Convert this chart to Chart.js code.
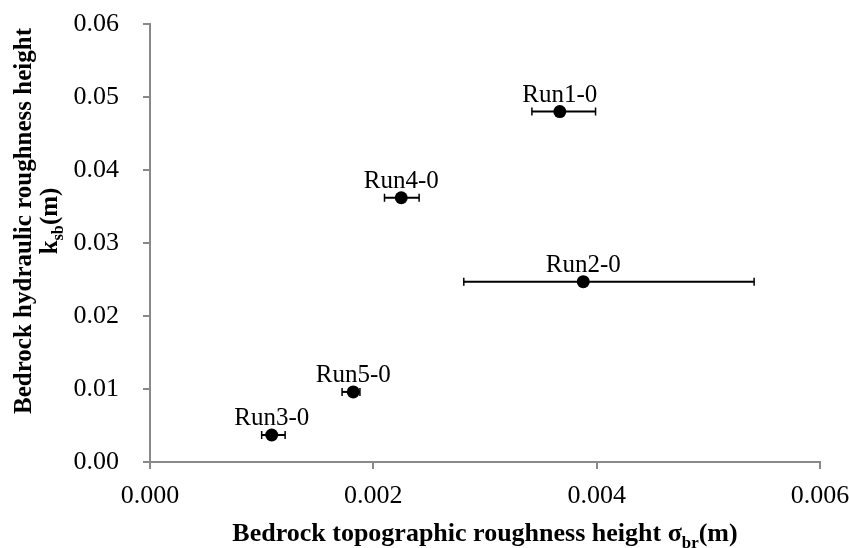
<!DOCTYPE html>
<html>
<head>
<meta charset="utf-8">
<script src="https://cdn.jsdelivr.net/npm/chart.js@4.4.1/dist/chart.umd.min.js"></script>
<style>
  html, body { margin: 0; padding: 0; background: #fff; }
  #wrap { width: 849px; height: 548px; }
</style>
</head>
<body>
<div id="wrap"><canvas id="grafico" width="849" height="548"></canvas></div>
<script>
// datos
const runs = ['Run1-0', 'Run2-0', 'Run3-0', 'Run4-0', 'Run5-0'];
const sigma = [0.00367, 0.00388, 0.00109, 0.00225, 0.00182];
const ksb = [0.0480, 0.0247, 0.0037, 0.0362, 0.0096];
// extremos de las barras de error en x
const sigmaLow = [0.00342, 0.00281, 0.00100, 0.00210, 0.00172];
const sigmaHigh = [0.00399, 0.00541, 0.00121, 0.00241, 0.00188];

const xTicks = [0, 0.002, 0.004, 0.006];
const yTicks = [0, 0.01, 0.02, 0.03, 0.04, 0.05, 0.06];

const serif = '"Liberation Serif", "Times New Roman", serif';
const ejeColor = '#898989';

// texto con subindice, dibujado a mano
function textoPartes(ctx, partes, x, y, size) {
  let total = 0;
  partes.forEach(p => {
    ctx.font = 'bold ' + (p.sub ? size * 0.65 : size) + 'px ' + serif;
    p.w = ctx.measureText(p.t).width;
    total += p.w;
  });
  let cx = x - total / 2;
  partes.forEach(p => {
    ctx.font = 'bold ' + (p.sub ? size * 0.65 : size) + 'px ' + serif;
    ctx.fillText(p.t, cx, p.sub ? y + size * 0.25 : y);
    cx += p.w;
  });
}

const extras = {
  id: 'extras',
  afterDatasetsDraw(chart) {
    const ctx = chart.ctx;
    const xs = chart.scales.x, ys = chart.scales.y;
    ctx.save();
    // barras de error
    ctx.strokeStyle = '#000';
    for (let i = 0; i < sigma.length; i++) {
      const py = ys.getPixelForValue(ksb[i]);
      const x1 = xs.getPixelForValue(sigmaLow[i]);
      const x2 = xs.getPixelForValue(sigmaHigh[i]);
      ctx.lineWidth = 2;
      ctx.beginPath();
      ctx.moveTo(x1, py); ctx.lineTo(x2, py);
      ctx.stroke();
      ctx.lineWidth = 1.5;
      ctx.beginPath();
      ctx.moveTo(x1, py - 4); ctx.lineTo(x1, py + 4);
      ctx.moveTo(x2, py - 4); ctx.lineTo(x2, py + 4);
      ctx.stroke();
    }
    // puntos encima de las barras
    ctx.fillStyle = '#000';
    for (let i = 0; i < sigma.length; i++) {
      ctx.beginPath();
      ctx.arc(xs.getPixelForValue(sigma[i]), ys.getPixelForValue(ksb[i]), 6.5, 0, Math.PI * 2);
      ctx.fill();
    }
    // etiquetas
    ctx.font = '25px ' + serif;
    ctx.textAlign = 'center';
    ctx.textBaseline = 'alphabetic';
    for (let i = 0; i < runs.length; i++) {
      ctx.fillText(runs[i], xs.getPixelForValue(sigma[i]), ys.getPixelForValue(ksb[i]) - 10);
    }
    // titulos de ejes
    ctx.textAlign = 'left';
    textoPartes(ctx, [{ t: 'Bedrock topographic roughness height σ' }, { t: 'br', sub: true }, { t: '(m)' }],
      (xs.left + xs.right) / 2, 541, 26);
    ctx.rotate(-Math.PI / 2);
    textoPartes(ctx, [{ t: 'Bedrock hydraulic roughness height' }], -221, 31, 25);
    textoPartes(ctx, [{ t: 'k' }, { t: 'sb', sub: true }, { t: '(m)' }], -221, 57, 25);
    ctx.restore();
  }
};

const ctx = document.getElementById('grafico').getContext('2d');
const grafico = new Chart(ctx, {
  type: 'scatter',
  data: {
    datasets: [{
      label: 'Runs',
      data: sigma.map((s, i) => ({ x: s, y: ksb[i] })),
      pointRadius: 0,
      pointHoverRadius: 0,
      showLine: false
    }]
  },
  options: {
    responsive: false,
    animation: false,
    layout: { padding: { top: 24, right: 29, left: 0, bottom: 0 } },
    plugins: {
      legend: { display: false },
      tooltip: { enabled: false }
    },
    scales: {
      x: {
        type: 'linear',
        min: 0,
        max: 0.006,
        afterBuildTicks: s => { s.ticks = xTicks.map(v => ({ value: v })); },
        afterFit: s => { s.height = 86; s.paddingLeft = 0; s.paddingRight = 0; },
        ticks: {
          callback: v => v.toFixed(3),
          color: '#000',
          font: { family: serif, size: 26 },
          padding: 12,
          maxRotation: 0
        },
        grid: { drawOnChartArea: false, drawTicks: true, tickLength: 7, color: ejeColor, lineWidth: 2 },
        border: { color: ejeColor, width: 2 }
      },
      y: {
        type: 'linear',
        min: 0,
        max: 0.06,
        afterBuildTicks: s => { s.ticks = yTicks.map(v => ({ value: v })); },
        afterFit: s => { s.width = 150; s.paddingTop = 0; s.paddingBottom = 0; },
        ticks: {
          callback: v => v.toFixed(2),
          color: '#000',
          font: { family: serif, size: 26 },
          padding: 24
        },
        grid: { drawOnChartArea: false, drawTicks: true, tickLength: 7, color: ejeColor, lineWidth: 2 },
        border: { color: ejeColor, width: 2 }
      }
    }
  },
  plugins: [extras]
});
</script>
</body>
</html>
